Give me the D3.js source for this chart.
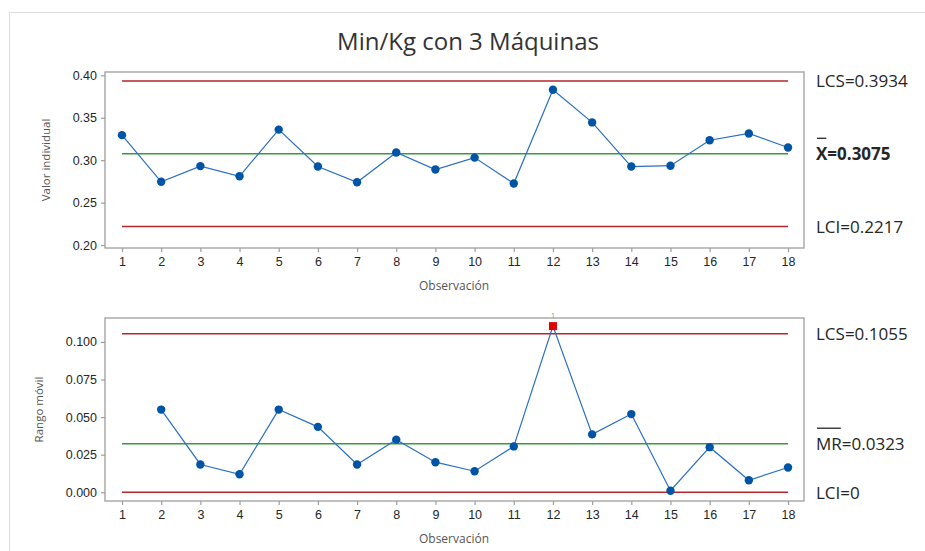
<!DOCTYPE html>
<html>
<head>
<meta charset="utf-8">
<script src="https://cdn.jsdelivr.net/npm/d3@7"></script>
<style>
  html, body { margin: 0; padding: 0; background: #fff; }
  svg { display: block; font-family: "Open Sans", "Noto Sans", sans-serif; }
</style>
</head>
<body>
<svg id="chart" width="925" height="551"></svg>
<script>
// Observations and measured values
const observations = [1, 2, 3, 4, 5, 6, 7, 8, 9, 10, 11, 12, 13, 14, 15, 16, 17, 18];
const individualValues = [0.3295, 0.2745, 0.2930, 0.2810, 0.3360, 0.2925, 0.2740, 0.3090, 0.2890,
  0.3030, 0.2725, 0.3830, 0.3445, 0.2925, 0.2935, 0.3235, 0.3315, 0.3150];
const movingRanges = [null, 0.0550, 0.0185, 0.0120, 0.0550, 0.0435, 0.0185, 0.0350, 0.0200,
  0.0140, 0.0305, 0.1105, 0.0385, 0.0520, 0.0010, 0.0300, 0.0080, 0.0165];

// Control limits
const iLimits = { ucl: 0.3934, center: 0.3075, lcl: 0.2217 };
const mrLimits = { ucl: 0.1055, center: 0.0323, lcl: 0 };

// Axis ticks
const iTicks = [0.20, 0.25, 0.30, 0.35, 0.40];
const mrTicks = [0.000, 0.025, 0.050, 0.075, 0.100];

const title = "Min/Kg con 3 Máquinas";

const svg = d3.select("#chart");

const C = {
  frame: "#9e9e9e",
  text: "#262626",
  label: "#555555",
  red: "#b5262b",
  green: "#3a9a3a",
  line: "#2a6fc4",
  dot: "#0054a6",
  flag: "#e00000"
};

// Outer figure border
svg.append("path")
  .attr("d", "M9.5,551 L9.5,12.5 L925,12.5")
  .attr("fill", "none")
  .attr("stroke", "#dcdcdc")
  .attr("stroke-width", 1);

svg.append("text")
  .attr("x", 468).attr("y", 50)
  .attr("text-anchor", "middle")
  .attr("font-size", 24)
  .attr("font-weight", 500)
  .attr("fill", "#333333")
  .text(title);

const x = d3.scaleLinear().domain([0.566, 18.408]).range([105, 804]);

function panel(opts) {
  const g = svg.append("g");
  const y = d3.scaleLinear().domain(opts.yDomain).range([opts.bottom, opts.top]);

  // Plot frame
  g.append("rect")
    .attr("x", x.range()[0]).attr("y", opts.top)
    .attr("width", x.range()[1] - x.range()[0])
    .attr("height", opts.bottom - opts.top)
    .attr("fill", "none")
    .attr("stroke", C.frame)
    .attr("stroke-width", 1.3);

  const yAxis = g.append("g")
    .attr("transform", `translate(${x.range()[0]},0)`)
    .call(d3.axisLeft(y).tickValues(opts.ticks).tickFormat(d3.format(opts.fmt)).tickSize(4).tickPadding(4));
  const xAxis = g.append("g")
    .attr("transform", `translate(0,${opts.bottom})`)
    .call(d3.axisBottom(x).tickValues(observations).tickFormat(d3.format("d")).tickSize(4).tickPadding(5));
  [yAxis, xAxis].forEach(a => {
    a.select(".domain").remove();
    a.selectAll(".tick line").attr("stroke", C.frame).attr("stroke-width", 1.2);
    a.selectAll(".tick text").attr("fill", C.text).attr("font-size", 12.5).attr("font-family", null);
  });

  // Axis titles
  g.append("text")
    .attr("transform", `translate(${opts.yTitleX},${(opts.top + opts.bottom) / 2}) rotate(-90)`)
    .attr("text-anchor", "middle")
    .attr("dominant-baseline", "middle")
    .attr("font-size", 11.5)
    .attr("fill", C.label)
    .text(opts.yTitle);
  g.append("text")
    .attr("x", 454).attr("y", opts.bottom + 42)
    .attr("text-anchor", "middle")
    .attr("font-size", 12)
    .attr("fill", C.label)
    .text("Observación");

  // Control lines
  const lim = opts.limits;
  [["ucl", C.red], ["center", C.green], ["lcl", C.red]].forEach(([k, col]) => {
    g.append("line")
      .attr("x1", x(observations[0])).attr("x2", x(observations[observations.length - 1]))
      .attr("y1", y(lim[k])).attr("y2", y(lim[k]))
      .attr("stroke", col).attr("stroke-width", 1.5);
  });

  // Series
  const pts = observations.map((o, i) => ({ o, v: opts.values[i] })).filter(d => d.v != null);
  g.append("path")
    .datum(pts)
    .attr("d", d3.line().x(d => x(d.o)).y(d => y(d.v)))
    .attr("fill", "none")
    .attr("stroke", C.line)
    .attr("stroke-width", 1.2);

  const inCtl = pts.filter(d => d.v <= lim.ucl && d.v >= lim.lcl);
  const outCtl = pts.filter(d => d.v > lim.ucl || d.v < lim.lcl);
  g.selectAll("circle.pt").data(inCtl).join("circle")
    .attr("class", "pt")
    .attr("cx", d => x(d.o)).attr("cy", d => y(d.v)).attr("r", 4.2)
    .attr("fill", C.dot);
  g.selectAll("rect.pt").data(outCtl).join("rect")
    .attr("class", "pt")
    .attr("x", d => x(d.o) - 4).attr("y", d => y(d.v) - 4)
    .attr("width", 8).attr("height", 8)
    .attr("fill", C.flag);
  g.selectAll("text.flag").data(outCtl).join("text")
    .attr("class", "flag")
    .attr("x", d => x(d.o)).attr("y", d => y(d.v) - 8)
    .attr("text-anchor", "middle")
    .attr("font-size", 7)
    .attr("fill", "#8a8a8a")
    .text("1");

  // Limit labels on the right
  const lx = 816;
  opts.labels.forEach(lb => {
    const t = g.append("text")
      .attr("x", lx).attr("y", y(lim[lb.key]))
      .attr("dominant-baseline", "central")
      .attr("font-size", 17)
      .attr("font-weight", lb.bold ? "bold" : null)
      .attr("fill", C.text)
      .text(lb.text);
    if (lb.bar) {
      const w = t.node().getSubStringLength(0, lb.bar);
      g.append("line")
        .attr("x1", lx + 1).attr("x2", lx + w - 1)
        .attr("y1", y(lim[lb.key]) - 15.5).attr("y2", y(lim[lb.key]) - 15.5)
        .attr("stroke", C.text).attr("stroke-width", 1.3);
    }
  });
  return { g, y };
}

panel({
  top: 72, bottom: 248,
  yDomain: [0.1965, 0.4039],
  ticks: iTicks, fmt: ".2f",
  values: individualValues,
  limits: iLimits,
  yTitle: "Valor individual", yTitleX: 47,
  labels: [
    { key: "ucl", text: `LCS=${iLimits.ucl.toFixed(4)}` },
    { key: "center", text: `X=${iLimits.center.toFixed(4)}`, bold: true, bar: 1 },
    { key: "lcl", text: `LCI=${iLimits.lcl.toFixed(4)}` }
  ]
});

panel({
  top: 318, bottom: 501,
  yDomain: [-0.0058, 0.1159],
  ticks: mrTicks, fmt: ".3f",
  values: movingRanges,
  limits: mrLimits,
  yTitle: "Rango móvil", yTitleX: 40,
  labels: [
    { key: "ucl", text: `LCS=${mrLimits.ucl.toFixed(4)}` },
    { key: "center", text: `MR=${mrLimits.center.toFixed(4)}`, bar: 2 },
    { key: "lcl", text: `LCI=${mrLimits.lcl}` }
  ]
});
</script>
</body>
</html>
